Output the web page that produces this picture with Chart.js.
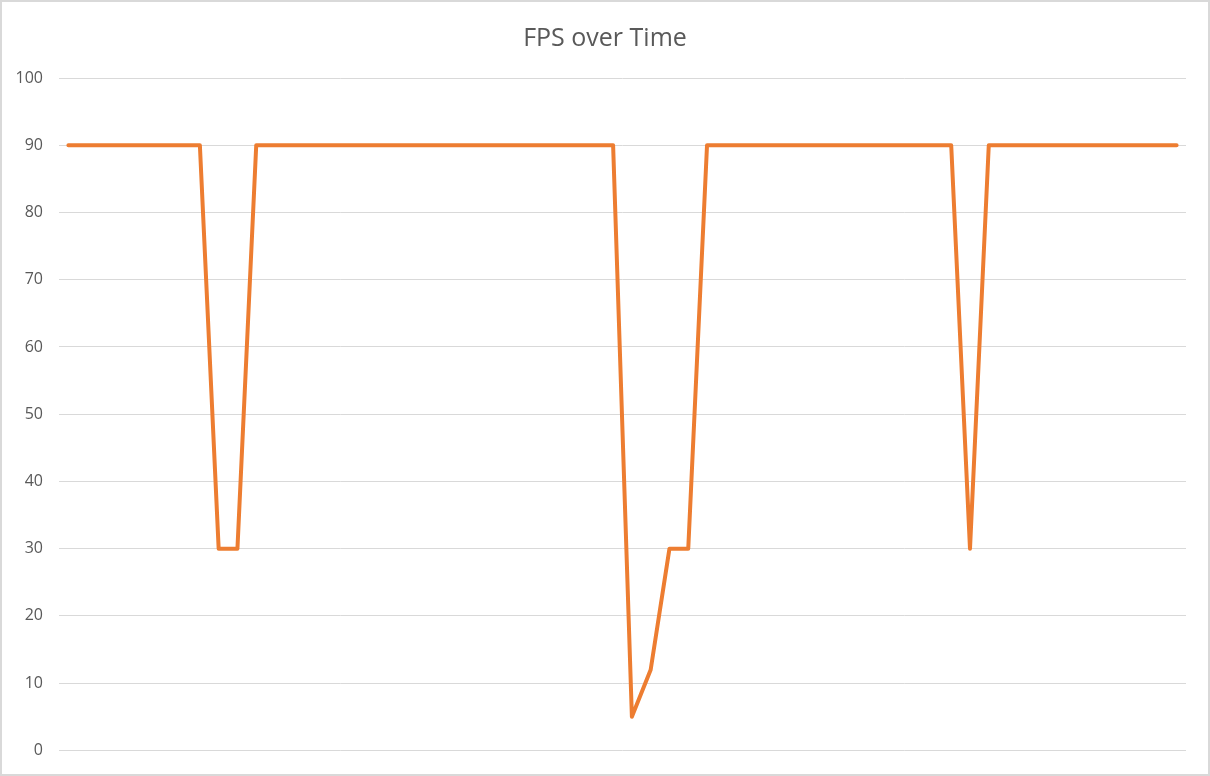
<!DOCTYPE html>
<html lang="en">
<head>
  <meta charset="UTF-8">
  <title>FPS over Time</title>
  <script src="https://cdn.jsdelivr.net/npm/chart.js"></script>
  <style>
    html, body {
      margin: 0;
      padding: 0;
      background: #fff;
    }
    canvas {
      display: block;
    }
  </style>
</head>
<body>
  <canvas id="fpsChart" width="1210" height="776"></canvas>

  <script>
    // samples along the time axis (no labels shown on the chart)
    const timeSteps = [
      1, 2, 3, 4, 5, 6, 7, 8, 9, 10,
      11, 12, 13, 14, 15, 16, 17, 18, 19, 20,
      21, 22, 23, 24, 25, 26, 27, 28, 29, 30,
      31, 32, 33, 34, 35, 36, 37, 38, 39, 40,
      41, 42, 43, 44, 45, 46, 47, 48, 49, 50,
      51, 52, 53, 54, 55, 56, 57, 58, 59, 60
    ];
    const fpsValues = [
      90, 90, 90, 90, 90, 90, 90, 90, 30, 30,
      90, 90, 90, 90, 90, 90, 90, 90, 90, 90,
      90, 90, 90, 90, 90, 90, 90, 90, 90, 90,
      5, 12, 30, 30, 90, 90, 90, 90, 90, 90,
      90, 90, 90, 90, 90, 90, 90, 90, 30, 90,
      90, 90, 90, 90, 90, 90, 90, 90, 90, 90
    ];
    const yTicks = [0, 10, 20, 30, 40, 50, 60, 70, 80, 90, 100];

    const textColor = '#595959';
    const gridColor = '#d9d9d9';

    // white background + thin gray frame like the Excel chart box
    const frame = {
      id: 'frame',
      beforeDraw(chart) {
        const c = chart.ctx;
        c.save();
        c.fillStyle = '#fff';
        c.fillRect(0, 0, chart.width, chart.height);
        c.strokeStyle = gridColor;
        c.lineWidth = 2;
        c.strokeRect(1, 1, chart.width - 2, chart.height - 2);
        c.restore();
      }
    };

    const ctx = document.getElementById('fpsChart').getContext('2d');
    new Chart(ctx, {
      type: 'line',
      data: {
        labels: timeSteps,
        datasets: [{
          label: 'FPS',
          data: fpsValues,
          borderColor: '#ed7d31',
          backgroundColor: '#ed7d31',
          borderWidth: 4,
          borderJoinStyle: 'round',
          borderCapStyle: 'round',
          pointRadius: 0,
          tension: 0
        }]
      },
      plugins: [frame],
      options: {
        responsive: false,
        animation: false,
        layout: {
          padding: { left: 0, right: 0, top: 0, bottom: 21 }
        },
        plugins: {
          legend: { display: false },
          tooltip: { enabled: false },
          title: {
            display: true,
            text: 'FPS over Time',
            color: textColor,
            font: { family: "'Open Sans', sans-serif", size: 25, weight: 'normal', lineHeight: 1.2 },
            padding: { top: 24, bottom: 24 }
          }
        },
        scales: {
          x: {
            display: false,
            offset: true,
            grid: { display: false }
          },
          y: {
            min: 0,
            max: 100,
            afterFit(scale) { scale.width = 59; },
            afterBuildTicks(scale) { scale.ticks = yTicks.map(v => ({ value: v })); },
            ticks: {
              color: textColor,
              padding: 16,
              font: { family: "'Open Sans', sans-serif", size: 16 }
            },
            grid: {
              color: gridColor,
              lineWidth: 1,
              drawTicks: false
            },
            border: { display: false }
          },
          // empty spacer on the right so the title stays centred on the canvas
          yRight: {
            position: 'right',
            min: 0,
            max: 100,
            afterFit(scale) { scale.width = 24; },
            ticks: { display: false },
            grid: { display: false, drawTicks: false },
            border: { display: false }
          }
        }
      }
    });
  </script>
</body>
</html>
